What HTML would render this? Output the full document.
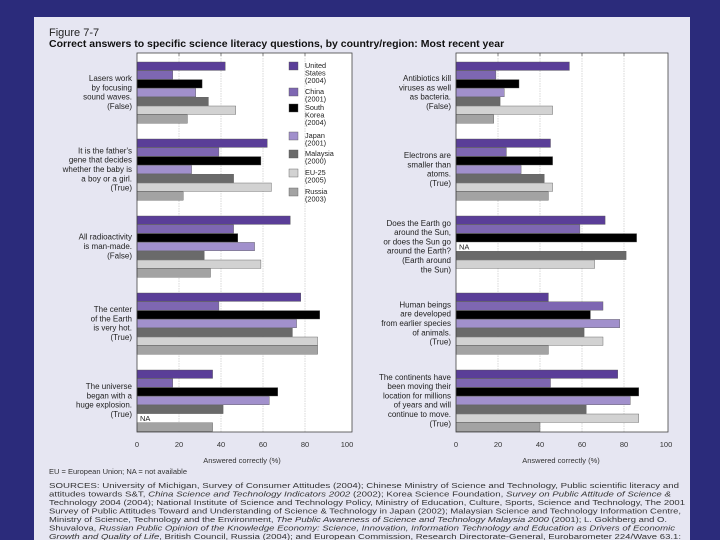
<!DOCTYPE html>
<html><head><meta charset="utf-8"><style>
html,body{margin:0;padding:0;background:#2b2b7b;}
svg{display:block;font-family:"Liberation Sans",sans-serif;}
</style></head><body>
<svg id="c" width="720" height="540" xmlns="http://www.w3.org/2000/svg">
<rect x="0" y="0" width="720" height="540" fill="#2b2b7b"/>
<rect x="34" y="17" width="656" height="530" fill="#e6e6f2"/>
<text x="49" y="36" font-size="11" fill="#222">Figure 7-7</text>
<text x="49" y="47" font-size="10.5" font-weight="bold" fill="#111">Correct answers to specific science literacy questions, by country/region: Most recent year</text>
<g id="plots"></g>
<text x="49" y="474" font-size="7.5" fill="#333">EU = European Union; NA = not available</text>
<g font-size="7" fill="#333" font-family="Liberation Sans, sans-serif">
<text x="49" y="488" textLength="630" lengthAdjust="spacingAndGlyphs">SOURCES: University of Michigan, Survey of Consumer Attitudes (2004); Chinese Ministry of Science and Technology, Public scientific literacy and</text>
<text x="49" y="496.5" textLength="622" lengthAdjust="spacingAndGlyphs">attitudes towards S&amp;T, <tspan font-style="italic">China Science and Technology Indicators 2002</tspan> (2002); Korea Science Foundation, <tspan font-style="italic">Survey on Public Attitude of Science &amp;</tspan></text>
<text x="49" y="505" textLength="636" lengthAdjust="spacingAndGlyphs">Technology 2004 (2004); National Institute of Science and Technology Policy, Ministry of Education, Culture, Sports, Science and Technology, The 2001</text>
<text x="49" y="513.5" textLength="632" lengthAdjust="spacingAndGlyphs">Survey of Public Attitudes Toward and Understanding of Science &amp; Technology in Japan (2002); Malaysian Science and Technology Information Centre,</text>
<text x="49" y="522" textLength="618" lengthAdjust="spacingAndGlyphs">Ministry of Science, Technology and the Environment, <tspan font-style="italic">The Public Awareness of Science and Technology Malaysia 2000</tspan> (2001); L. Gokhberg and O.</text>
<text x="49" y="530.5" textLength="626" lengthAdjust="spacingAndGlyphs">Shuvalova, <tspan font-style="italic">Russian Public Opinion of the Knowledge Economy: Science, Innovation, Information Technology and Education as Drivers of Economic</tspan></text>
<text x="49" y="539" textLength="632" lengthAdjust="spacingAndGlyphs"><tspan font-style="italic">Growth and Quality of Life</tspan>, British Council, Russia (2004); and European Commission, Research Directorate-General, Eurobarometer 224/Wave 63.1:</text>
</g>
</svg>
<script>
const countries = ["United States (2004)","China (2001)","South Korea (2004)","Japan (2001)","Malaysia (2000)","EU-25 (2005)","Russia (2003)"];
const legendLines = [["United","States","(2004)"],["China","(2001)"],["South","Korea","(2004)"],["Japan","(2001)"],["Malaysia","(2000)"],["EU-25","(2005)"],["Russia","(2003)"]];
const colors = ["#5a3e98","#7e67b2","#000000","#a190cc","#6a6a6a","#d2d2d2","#a3a3a3"];
const leftQuestions = [
 ["Lasers work","by focusing","sound waves.","(False)"],
 ["It is the father's","gene that decides","whether the baby is","a boy or a girl.","(True)"],
 ["All radioactivity","is man-made.","(False)"],
 ["The center","of the Earth","is very hot.","(True)"],
 ["The universe","began with a","huge explosion.","(True)"]];
const rightQuestions = [
 ["Antibiotics kill","viruses as well","as bacteria.","(False)"],
 ["Electrons are","smaller than","atoms.","(True)"],
 ["Does the Earth go","around the Sun,","or does the Sun go","around the Earth?","(Earth around","the Sun)"],
 ["Human beings","are developed","from earlier species","of animals.","(True)"],
 ["The continents have","been moving their","location for millions","of years and will","continue to move.","(True)"]];
// values per question: [US, China, Korea, Japan, Malaysia, EU, Russia]; null = NA, -1 = no bar
const leftValues = [
 [42,17,31,28,34,47,24],
 [62,39,59,26,46,64,22],
 [73,46,48,56,32,59,35],
 [78,39,87,76,74,86,86],
 [36,17,67,63,41,null,36]];
const rightValues = [
 [54,19,30,23,21,46,18],
 [45,24,46,31,42,46,44],
 [71,59,86,null,81,66,-1],
 [44,70,64,78,61,70,44],
 [77,45,87,83,62,87,40]];
const ticks = [0,20,40,60,80,100];
const axisTitle = "Answered correctly (%)";

const NS="http://www.w3.org/2000/svg";
const root=document.getElementById('plots');
function el(tag,attrs,parent){const e=document.createElementNS(NS,tag);for(const k in attrs)e.setAttribute(k,attrs[k]);(parent||root).appendChild(e);return e;}

const plotTop=53, plotBottom=432, groupStart=62, groupStep=77, barH=8.8;
function drawPanel(x0,plotRight,labelRight,questions,values,side,withLegend){
  const g=el('g',{});
  
  
  const sx=v=>x0+v*2.1;
  const bg=el('rect',{x:x0,y:plotTop,width:plotRight-x0,height:plotBottom-plotTop,fill:'#fff'},g);
  
  
  ticks.forEach(t=>{
    if(t>0&&t<100){const gl=el('line',{x1:sx(t),x2:sx(t),y1:plotTop,y2:plotBottom,stroke:'#c8c8c8','stroke-width':0.7,'stroke-dasharray':'1.5,1'},g);
      
      }
    if(t>0&&t<100){el('line',{x1:sx(t),x2:sx(t),y1:plotTop,y2:plotTop+3,stroke:'#555','stroke-width':0.7},g);}
    const tl=el('text',{x:sx(t),y:447,'font-size':7.5,'text-anchor':'middle',fill:'#333'},g);
    tl.textContent=t;
    
    
  });
  const at=el('text',{x:sx(50),y:463,'font-size':7.5,'text-anchor':'middle',fill:'#333'},g);
  at.textContent=axisTitle;
  
  
  values.forEach((vals,qi)=>{
    const gy=groupStart+qi*groupStep;
    vals.forEach((v,ci)=>{
      const y=gy+ci*barH;
      if(v===null){
        const na=el('text',{x:x0+3,y:y+7,'font-size':7.5,fill:'#222'},g);
        na.textContent='NA';
        
        
      } else if(v>=0){
        const b=el('rect',{x:x0,y:y,width:sx(v)-x0,height:barH-0.4,fill:colors[ci],stroke:'#555','stroke-width':0.4},g);
        
        
      }
    });
    const lines=questions[qi];
    const lh=9.3;
    const cy=gy+30;
    const t0=cy-(lines.length-1)*lh/2+3;
    const lt=el('text',{'font-size':8,fill:'#222','text-anchor':'end'},g);
    
    
    lines.forEach((ln,i)=>{const ts=el('tspan',{x:labelRight,y:t0+i*lh},lt);ts.textContent=ln;});
  });
  const fr=el('rect',{x:x0,y:plotTop,width:plotRight-x0,height:plotBottom-plotTop,fill:'none',stroke:'#444','stroke-width':0.8},g);
  
  
  if(withLegend){
    const lg=el('g',{},g);
    
    
    const ys=[62,88,104,132,150,169,188];
    legendLines.forEach((ls,i)=>{
      const e=el('g',{},lg);
      
      
      el('rect',{x:289,y:ys[i],width:9,height:8,fill:colors[i],stroke:'#555','stroke-width':0.4},e);
      const t=el('text',{'font-size':7.3,fill:'#222'},e);
      ls.forEach((s,j)=>{const ts=el('tspan',{x:305,y:ys[i]+6+j*7.6},t);ts.textContent=s;});
    });
  }
}
drawPanel(137,352,132,leftQuestions,leftValues,'left',true);
drawPanel(456,668,451,rightQuestions,rightValues,'right',false);
</script>
</body></html>
